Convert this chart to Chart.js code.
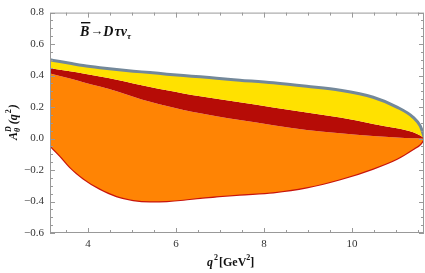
<!DOCTYPE html>
<html lang="en">
<head>
    <meta charset="UTF-8">
    <title>A_theta^D(q^2) for B -> D tau nu</title>
    <script src="https://cdn.jsdelivr.net/npm/chart.js"></script>
    <style>
        html, body {
            margin: 0;
            padding: 0;
            background: #fff;
        }
        #wrap {
            width: 425px;
            height: 273px;
        }
    </style>
</head>
<body>

<div id="wrap"><canvas id="afbChart"></canvas></div>

<script>
    // q^2 sample points (GeV^2)
    const q2 = [3.14, 3.36, 3.59, 3.89, 4.27, 4.65, 5.03, 5.41, 5.79, 6.17, 6.55,
                6.92, 7.45, 8.21, 8.97, 9.73, 10.48, 11.02, 11.39, 11.55, 11.64];

    // upper edge of the yellow band (gray line)
    const upperGray = [0.500, 0.489, 0.478, 0.464, 0.450, 0.438, 0.428, 0.419, 0.409, 0.400, 0.392,
                       0.383, 0.371, 0.354, 0.332, 0.307, 0.262, 0.200, 0.135, 0.080, 0.010];
    // upper edge of the dark red band
    const upperRed = [0.446, 0.437, 0.427, 0.413, 0.394, 0.373, 0.350, 0.328, 0.306, 0.286, 0.268,
                      0.252, 0.230, 0.197, 0.165, 0.133, 0.093, 0.065, 0.040, 0.020, 0.003];
    // upper edge of the orange band
    const upperOrange = [0.413, 0.398, 0.381, 0.358, 0.330, 0.300, 0.266, 0.233, 0.206, 0.182, 0.160,
                         0.141, 0.117, 0.085, 0.055, 0.034, 0.016, 0.007, 0.002, 0.001, 0.000];
    // lower edge (red line)
    const lowerRed = [-0.045, -0.107, -0.180, -0.252, -0.318, -0.365, -0.390, -0.398, -0.396, -0.388, -0.376,
                      -0.367, -0.355, -0.341, -0.310, -0.258, -0.190, -0.128, -0.066, -0.035, 0.000];

    const xTicks = [4, 6, 8, 10];
    const yTicks = [-0.6, -0.4, -0.2, 0.0, 0.2, 0.4, 0.6, 0.8];

    const serif = '"Liberation Serif", "Times New Roman", serif';
    const pts = arr => arr.map((v, i) => ({ x: q2[i], y: v }));

    // frame with inward ticks on all sides, plus the text pieces
    const framePlugin = {
        id: 'frame',
        afterDraw(chart) {
            const ctx = chart.ctx;
            const a = chart.chartArea;
            const xs = chart.scales.x, ys = chart.scales.y;
            ctx.save();
            ctx.strokeStyle = '#999';
            ctx.lineWidth = 1;
            ctx.strokeRect(a.left + 0.5, a.top + 0.5, a.right - a.left - 1, a.bottom - a.top - 1);

            ctx.beginPath();
            for (let v = 3.5; v <= 11.6; v += 0.5) {
                const px = Math.round(xs.getPixelForValue(v)) + 0.5;
                const len = (v % 2 === 0) ? 5 : 3;
                ctx.moveTo(px, a.bottom); ctx.lineTo(px, a.bottom - len);
                ctx.moveTo(px, a.top); ctx.lineTo(px, a.top + len);
            }
            for (let i = -12; i <= 16; i++) {
                const v = i * 0.05;
                const py = Math.round(ys.getPixelForValue(v)) + 0.5;
                const len = (i % 4 === 0) ? 5 : 3;
                ctx.moveTo(a.left, py); ctx.lineTo(a.left + len, py);
                ctx.moveTo(a.right, py); ctx.lineTo(a.right - len, py);
            }
            ctx.stroke();

            ctx.fillStyle = '#111';
            ctx.textBaseline = 'alphabetic';
            ctx.textAlign = 'left';

            // decay label
            let x = 80, y = 36;
            ctx.font = 'italic bold 14px ' + serif;
            ctx.fillText('B', x, y);
            const bw = ctx.measureText('B').width;
            ctx.fillRect(x + 1, 22, bw, 1.4);
            x += bw + 1;
            ctx.font = 'bold 13px ' + serif;
            ctx.fillText('\u2192', x, y - 1);
            x += ctx.measureText('\u2192').width;
            ctx.font = 'italic bold 14px ' + serif;
            ctx.fillText('D', x, y);
            x += ctx.measureText('D').width + 1;
            ctx.fillText('\u03c4\u03bd', x, y);
            x += ctx.measureText('\u03c4\u03bd').width;
            ctx.font = 'italic bold 9px ' + serif;
            ctx.fillText('\u03c4', x, y + 3);

            // x axis title: q^2 [GeV^2]
            x = 207; y = 266;
            ctx.font = 'italic bold 12px ' + serif;
            ctx.fillText('q', x, y);
            x += ctx.measureText('q').width + 1;
            ctx.font = 'bold 8px ' + serif;
            ctx.fillText('2', x, y - 6);
            x += ctx.measureText('2').width + 1;
            ctx.font = 'bold 12px ' + serif;
            ctx.fillText('[GeV', x, y);
            x += ctx.measureText('[GeV').width;
            ctx.font = 'bold 8px ' + serif;
            ctx.fillText('2', x, y - 6);
            x += ctx.measureText('2').width;
            ctx.font = 'bold 12px ' + serif;
            ctx.fillText(']', x, y);

            // y axis title: A_theta^D(q^2), rotated
            ctx.translate(17, 140);
            ctx.rotate(-Math.PI / 2);
            x = 0; y = 0;
            ctx.font = 'italic bold 12px ' + serif;
            ctx.fillText('A', x, y);
            x += ctx.measureText('A').width;
            ctx.font = 'italic bold 8px ' + serif;
            ctx.fillText('\u03b8', x, y + 3);
            ctx.fillText('D', x, y - 6);
            x += ctx.measureText('D').width + 2;
            ctx.font = 'italic bold 12px ' + serif;
            ctx.fillText('(q', x, y);
            x += ctx.measureText('(q').width + 1;
            ctx.font = 'bold 8px ' + serif;
            ctx.fillText('2', x, y - 6);
            x += ctx.measureText('2').width + 1;
            ctx.font = 'italic bold 12px ' + serif;
            ctx.fillText(')', x, y);
            ctx.restore();
        }
    };

    const ctx = document.getElementById('afbChart').getContext('2d');
    new Chart(ctx, {
        type: 'scatter',
        data: {
            datasets: [
                {
                    label: 'upper',
                    data: pts(upperGray),
                    showLine: true,
                    borderColor: '#73889a',
                    borderWidth: 3,
                    backgroundColor: '#ffe100',
                    fill: '+1',
                    pointRadius: 0,
                    cubicInterpolationMode: 'monotone'
                },
                {
                    label: 'red band',
                    data: pts(upperRed),
                    showLine: true,
                    borderWidth: 0,
                    borderColor: 'rgba(0,0,0,0)',
                    backgroundColor: '#b60c06',
                    fill: '+1',
                    pointRadius: 0,
                    cubicInterpolationMode: 'monotone'
                },
                {
                    label: 'orange band',
                    data: pts(upperOrange),
                    showLine: true,
                    borderWidth: 0,
                    borderColor: 'rgba(0,0,0,0)',
                    backgroundColor: '#ff8404',
                    fill: '+1',
                    pointRadius: 0,
                    cubicInterpolationMode: 'monotone'
                },
                {
                    label: 'lower',
                    data: pts(lowerRed),
                    showLine: true,
                    borderColor: '#c8140c',
                    borderWidth: 2.5,
                    fill: false,
                    pointRadius: 0,
                    cubicInterpolationMode: 'monotone'
                }
            ]
        },
        options: {
            responsive: true,
            maintainAspectRatio: false,
            animation: false,
            layout: { padding: { top: 7, right: 1, left: 0, bottom: 0 } },
            plugins: {
                legend: { display: false },
                tooltip: { enabled: false }
            },
            scales: {
                x: {
                    type: 'linear',
                    min: 3.136,
                    max: 11.636,
                    grid: { display: false, drawTicks: false },
                    border: { display: false },
                    afterBuildTicks: scale => { scale.ticks = xTicks.map(v => ({ value: v })); },
                    afterFit: scale => { scale.height = 40; },
                    ticks: {
                        padding: 5,
                        color: '#333',
                        font: { family: serif, size: 11 },
                        maxRotation: 0
                    }
                },
                y: {
                    min: -0.6,
                    max: 0.8,
                    grid: { display: false, drawTicks: false },
                    border: { display: false },
                    afterBuildTicks: scale => { scale.ticks = yTicks.map(v => ({ value: v })); },
                    afterFit: scale => { scale.width = 50; },
                    ticks: {
                        padding: 6,
                        color: '#333',
                        font: { family: serif, size: 11 },
                        callback: v => v.toFixed(1).replace('-', '\u2212')
                    }
                }
            }
        },
        plugins: [framePlugin]
    });
</script>

</body>
</html>
